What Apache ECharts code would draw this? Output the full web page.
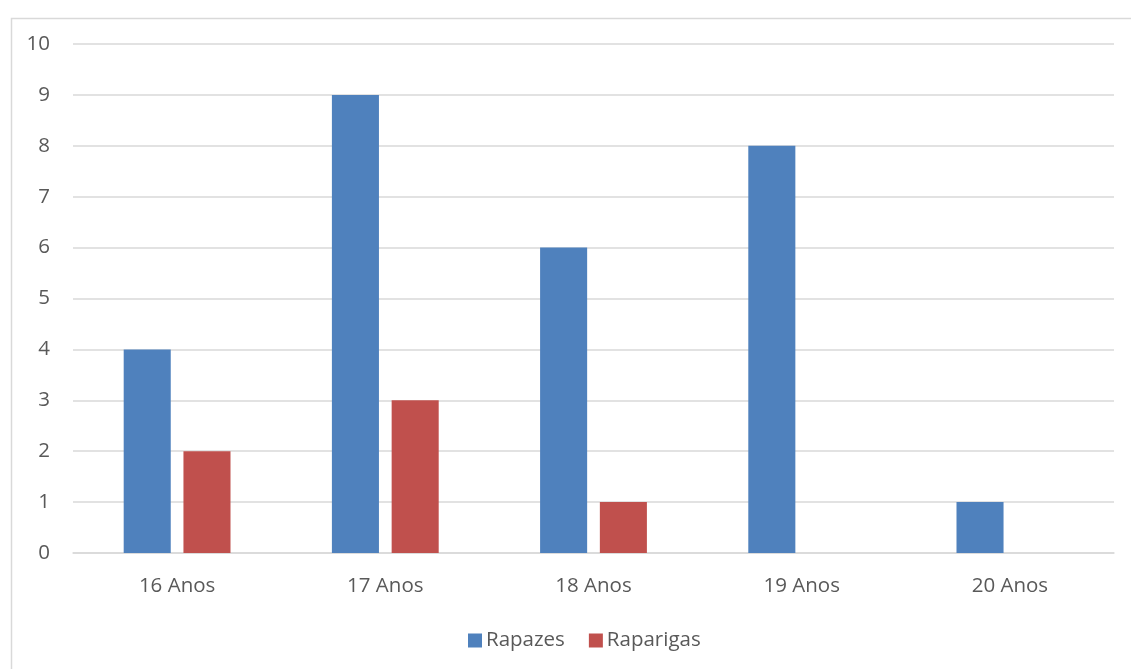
<!DOCTYPE html>
<html>
<head>
<meta charset="utf-8">
<script src="https://cdn.jsdelivr.net/npm/echarts@6/dist/echarts.min.js"></script>
<style>
  html, body { margin: 0; padding: 0; background: #fff; }
  #chart { width: 1131px; height: 669px; }
</style>
</head>
<body>
<div id="chart"></div>
<script>
// Age groups and counts per group
const categories = ['16 Anos', '17 Anos', '18 Anos', '19 Anos', '20 Anos'];
const rapazes = [4, 9, 6, 8, 1];
const raparigas = [2, 3, 1, 0, 0];
const seriesNames = ['Rapazes', 'Raparigas'];

const font = '"Open Sans", "Liberation Sans", sans-serif';
const chart = echarts.init(document.getElementById('chart'));

chart.setOption({
  animation: false,
  backgroundColor: '#fff',
  graphic: [{
    type: 'rect',
    left: 9, top: 16,
    shape: { width: 1140, height: 670 },
    style: { fill: 'none', stroke: '#D9D9D9', lineWidth: 1.5 },
    silent: true
  }],
  grid: { left: 73, right: 17, top: 44, bottom: 116 },
  legend: {
    data: seriesNames,
    top: 625,
    left: 463,
    itemWidth: 14,
    itemHeight: 14,
    itemGap: 24,
    icon: 'rect',
    textStyle: { fontFamily: font, fontSize: 20.5, color: '#595959', padding: [0, 0, 0, -1] }
  },
  xAxis: {
    type: 'category',
    data: categories,
    axisLine: { lineStyle: { color: '#D9D9D9', width: 1.5 } },
    axisTick: { show: false },
    axisLabel: { fontFamily: font, fontSize: 20.5, color: '#595959', margin: 23 }
  },
  yAxis: {
    type: 'value',
    min: 0, max: 10, interval: 1,
    axisLine: { show: false },
    axisTick: { show: false },
    splitLine: { lineStyle: { color: '#D9D9D9', width: 1.5 } },
    axisLabel: { fontFamily: font, fontSize: 20.5, color: '#595959', margin: 23 }
  },
  series: [
    {
      name: seriesNames[0], type: 'bar', data: rapazes,
      barWidth: '22.6%', barGap: '27%',
      itemStyle: { color: '#4F81BD' }
    },
    {
      name: seriesNames[1], type: 'bar', data: raparigas,
      barWidth: '22.6%', barGap: '27%',
      itemStyle: { color: '#C0504D' }
    }
  ]
});
</script>
</body>
</html>
